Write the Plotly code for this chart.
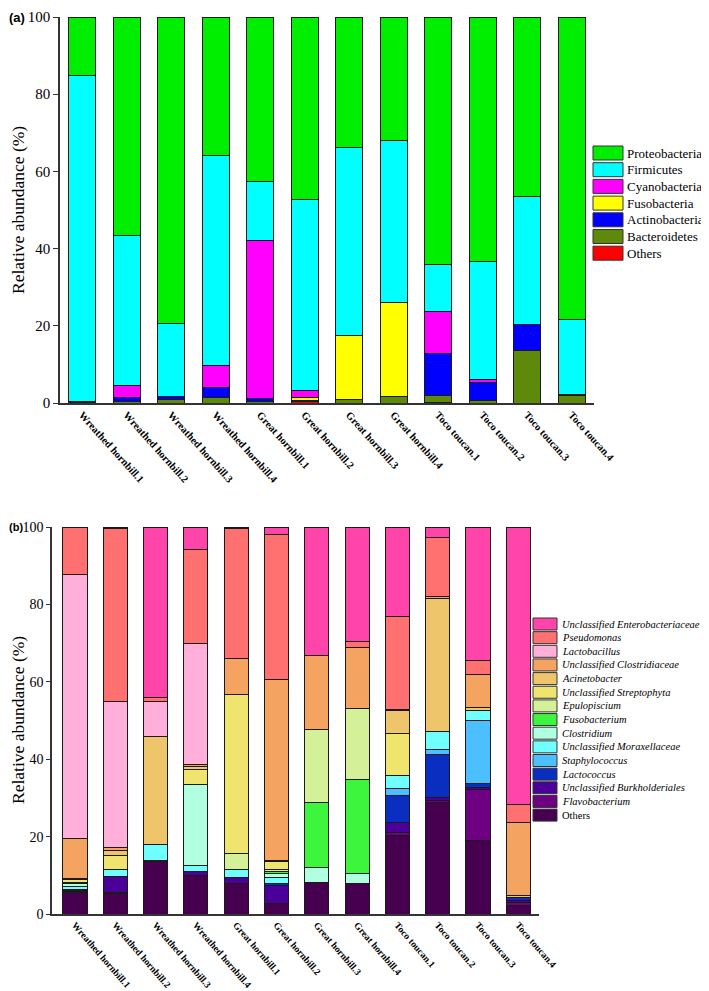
import plotly.graph_objects as go

# The page body has an 8px margin, so the figure is drawn 8px in from the window corner.
OFF = 8
FW, FH = 709 - OFF, 991 - OFF

samples = ["Wreathed hornbill.1", "Wreathed hornbill.2", "Wreathed hornbill.3", "Wreathed hornbill.4",
           "Great hornbill.1", "Great hornbill.2", "Great hornbill.3", "Great hornbill.4",
           "Toco toucan.1", "Toco toucan.2", "Toco toucan.3", "Toco toucan.4"]
y_ticks = [0, 20, 40, 60, 80, 100]

# ---- Panel (a): phyla, stacked bottom -> top ----
phyla = ["Others", "Bacteroidetes", "Actinobacteria", "Fusobacteria", "Cyanobacteria", "Firmicutes", "Proteobacteria"]
phyla_colors = ["#FF0000", "#5E8A0C", "#0000FF", "#FFFF00", "#FF00FF", "#00FFFF", "#00EE00"]
a_others         = [0.2, 0.0, 0.0, 0.0, 0.0, 0.3, 0.0, 0.0, 0.2, 0.0, 0.0, 0.0]
a_bacteroidetes  = [0.3, 0.4, 1.0, 1.4, 0.4, 0.3, 0.8, 1.7, 1.7, 0.7, 13.5, 1.9]
a_actinobacteria = [0.0, 0.9, 0.7, 2.7, 0.8, 0.1, 0.0, 0.0, 10.9, 4.7, 6.9, 0.3]
a_fusobacteria   = [0.0, 0.0, 0.0, 0.0, 0.0, 0.6, 16.7, 24.3, 0.0, 0.0, 0.0, 0.0]
a_cyanobacteria  = [0.0, 3.2, 0.0, 5.6, 41.0, 1.9, 0.0, 0.0, 10.9, 0.6, 0.0, 0.0]
a_firmicutes     = [84.3, 39.0, 19.0, 54.3, 15.1, 49.6, 48.8, 41.9, 12.1, 30.6, 33.0, 19.5]
a_proteobacteria = [15.2, 56.5, 79.3, 36.0, 42.7, 47.2, 33.7, 32.1, 64.2, 63.4, 46.6, 78.3]
phyla_values = [a_others, a_bacteroidetes, a_actinobacteria, a_fusobacteria,
                a_cyanobacteria, a_firmicutes, a_proteobacteria]

# ---- Panel (b): genera, stacked bottom -> top ----
genera = ["Others", "Flavobacterium", "Unclassified Burkholderiales", "Lactococcus", "Staphylococcus",
          "Unclassified Moraxellaceae", "Clostridium", "Fusobacterium", "Epulopiscium",
          "Unclassified Streptophyta", "Acinetobacter", "Unclassified Clostridiaceae",
          "Lactobacillus", "Pseudomonas", "Unclassified Enterobacteriaceae"]
genera_colors = ["#46004F", "#6E0082", "#4B0099", "#0A2FC0", "#4CBFFF", "#70FFFF", "#AFFFE0",
                 "#3CF53C", "#D4F098", "#EEE46E", "#EEC56A", "#F4A460", "#FFB0DA", "#FF7070", "#FF44AA"]
b_others       = [5.5, 5.4, 13.5, 9.9, 7.8, 2.8, 8.2, 8.0, 20.2, 28.8, 18.9, 2.2]
b_flavo        = [0.0, 0.2, 0.0, 0.0, 0.0, 0.0, 0.0, 0.0, 0.8, 0.5, 13.3, 0.8]
b_burk         = [0.3, 4.2, 0.3, 1.2, 1.6, 4.5, 0.0, 0.0, 2.7, 0.8, 0.6, 0.6]
b_lactococcus  = [0.3, 0.0, 0.0, 0.0, 0.0, 0.6, 0.0, 0.0, 6.8, 11.0, 0.8, 0.6]
b_staph        = [0.3, 0.0, 0.0, 0.0, 0.0, 0.0, 0.0, 0.0, 2.0, 1.5, 16.5, 0.0]
b_morax        = [0.8, 1.8, 4.2, 1.4, 2.1, 1.6, 0.0, 0.0, 3.2, 4.5, 2.6, 0.0]
b_clostridium  = [0.8, 0.0, 0.0, 21.0, 0.0, 1.0, 3.8, 2.5, 0.0, 0.0, 0.0, 0.0]
b_fuso         = [0.0, 0.0, 0.0, 0.0, 0.0, 0.5, 16.9, 24.3, 0.0, 0.0, 0.0, 0.0]
b_epul         = [0.2, 0.0, 0.0, 0.0, 4.2, 0.5, 18.8, 18.2, 0.0, 0.0, 0.0, 0.0]
b_strepto      = [0.8, 3.4, 0.0, 3.9, 40.9, 2.0, 0.0, 0.0, 11.0, 0.0, 0.0, 0.0]
b_acineto      = [0.3, 1.5, 27.8, 0.7, 0.0, 0.3, 0.0, 0.0, 5.8, 34.5, 0.6, 0.5]
b_clostridiac  = [10.3, 0.6, 0.0, 0.6, 9.3, 46.8, 19.0, 15.8, 0.4, 0.4, 8.6, 19.0]
b_lacto        = [68.2, 37.8, 9.1, 31.1, 0.0, 0.0, 0.0, 0.0, 0.0, 0.0, 0.0, 0.0]
b_pseudo       = [12.2, 44.8, 1.1, 24.4, 33.6, 37.5, 0.2, 1.6, 23.9, 15.3, 3.7, 4.6]
b_entero       = [0.0, 0.3, 44.0, 5.8, 0.5, 1.9, 33.1, 29.6, 23.2, 2.7, 34.4, 71.7]
genera_values = [b_others, b_flavo, b_burk, b_lactococcus, b_staph, b_morax, b_clostridium,
                 b_fuso, b_epul, b_strepto, b_acineto, b_clostridiac, b_lacto, b_pseudo, b_entero]

SERIF = "Liberation Serif"
SANS = "Liberation Sans"


def px_x(p):
    return (p - OFF) / FW


def px_y(p):
    return 1 - (p - OFF) / FH


fig = go.Figure()
for name, color, vals in zip(phyla, phyla_colors, phyla_values):
    fig.add_trace(go.Bar(x=samples, y=vals, name=name, marker_color=color,
                         marker_line=dict(color="#1a1a1a", width=1), width=0.61,
                         xaxis="x", yaxis="y", showlegend=False))
for name, color, vals in zip(genera, genera_colors, genera_values):
    fig.add_trace(go.Bar(x=samples, y=vals, name=name, marker_color=color,
                         marker_line=dict(color="#1a1a1a", width=1), width=0.6,
                         xaxis="x2", yaxis="y2", showlegend=False))

axis_common = dict(showline=True, linecolor="#333333", linewidth=1.5, showgrid=False,
                   zeroline=False, automargin=False, ticklabeloverflow="allow")
fig.update_layout(
    width=FW, height=FH, template="none", barmode="stack",
    font=dict(family=SERIF),
    margin=dict(l=0, r=0, t=0, b=0), paper_bgcolor="white", plot_bgcolor="white",
    xaxis=dict(domain=[px_x(60), px_x(594)], anchor="y", ticks="", tickangle=48,
               tickfont=dict(family=SERIF, size=10.5, color="black", weight="bold"),
               range=[-0.5, 11.5], **axis_common),
    yaxis=dict(domain=[px_y(403), px_y(17)], anchor="x", range=[0, 100], tickvals=y_ticks,
               ticks="outside", ticklen=5, tickcolor="#333333",
               tickfont=dict(family=SERIF, size=15, color="black"), **axis_common),
    xaxis2=dict(domain=[px_x(52), px_x(538.5)], anchor="y2", ticks="", tickangle=49,
                tickfont=dict(family=SERIF, size=9.6, color="black", weight="bold"),
                range=[-0.57, 11.5], **axis_common),
    yaxis2=dict(domain=[px_y(914), px_y(527)], anchor="x2", range=[0, 100], tickvals=y_ticks,
                ticks="outside", ticklen=4, tickcolor="#333333",
                tickfont=dict(family=SERIF, size=14, color="black"), **axis_common),
)

shapes = []
annotations = []

# panel labels and axis titles (cannot start left of the figure edge)
annotations.append(dict(text="<b>(a)</b>", x=px_x(OFF), y=px_y(18), xref="paper", yref="paper",
                        xanchor="left", yanchor="middle", showarrow=False, borderpad=0,
                        font=dict(family=SANS, size=13, color="black")))
annotations.append(dict(text="<b>(b)</b>", x=px_x(OFF), y=px_y(527), xref="paper", yref="paper",
                        xanchor="left", yanchor="middle", showarrow=False, borderpad=0,
                        font=dict(family=SANS, size=11, color="black")))
for cy in (210, 720):
    annotations.append(dict(text="Relative abundance (%)", x=px_x(18), y=px_y(cy), xref="paper",
                            yref="paper", xanchor="center", yanchor="middle", textangle=-90,
                            showarrow=False, font=dict(family=SERIF, size=17.5, color="black")))

# legend (a): top -> bottom is reverse of stacking order
leg_a_top = 153
for i, (name, color) in enumerate(zip(phyla[::-1], phyla_colors[::-1])):
    cy = leg_a_top + i * 16.7
    shapes.append(dict(type="rect", xref="paper", yref="paper", x0=px_x(593), x1=px_x(623),
                       y0=px_y(cy + 7), y1=px_y(cy - 7), fillcolor=color,
                       line=dict(color="#333333", width=1)))
    annotations.append(dict(text=name, x=px_x(626), y=px_y(cy), xref="paper", yref="paper",
                            xanchor="left", yanchor="middle", showarrow=False, borderpad=0,
                            font=dict(family=SERIF, size=13, color="black")))

# legend (b)
leg_b_top = 624
for i, (name, color) in enumerate(zip(genera[::-1], genera_colors[::-1])):
    cy = leg_b_top + i * 13.65
    shapes.append(dict(type="rect", xref="paper", yref="paper", x0=px_x(533), x1=px_x(557),
                       y0=px_y(cy + 6), y1=px_y(cy - 6), fillcolor=color,
                       line=dict(color="#333333", width=1)))
    label = name if name == "Others" else "<i>" + name + "</i>"
    annotations.append(dict(text=label, x=px_x(561), y=px_y(cy), xref="paper", yref="paper",
                            xanchor="left", yanchor="middle", showarrow=False, borderpad=0,
                            font=dict(family=SERIF, size=10.5, color="black")))

fig.update_layout(shapes=shapes, annotations=annotations)
fig.write_html("out.html")
